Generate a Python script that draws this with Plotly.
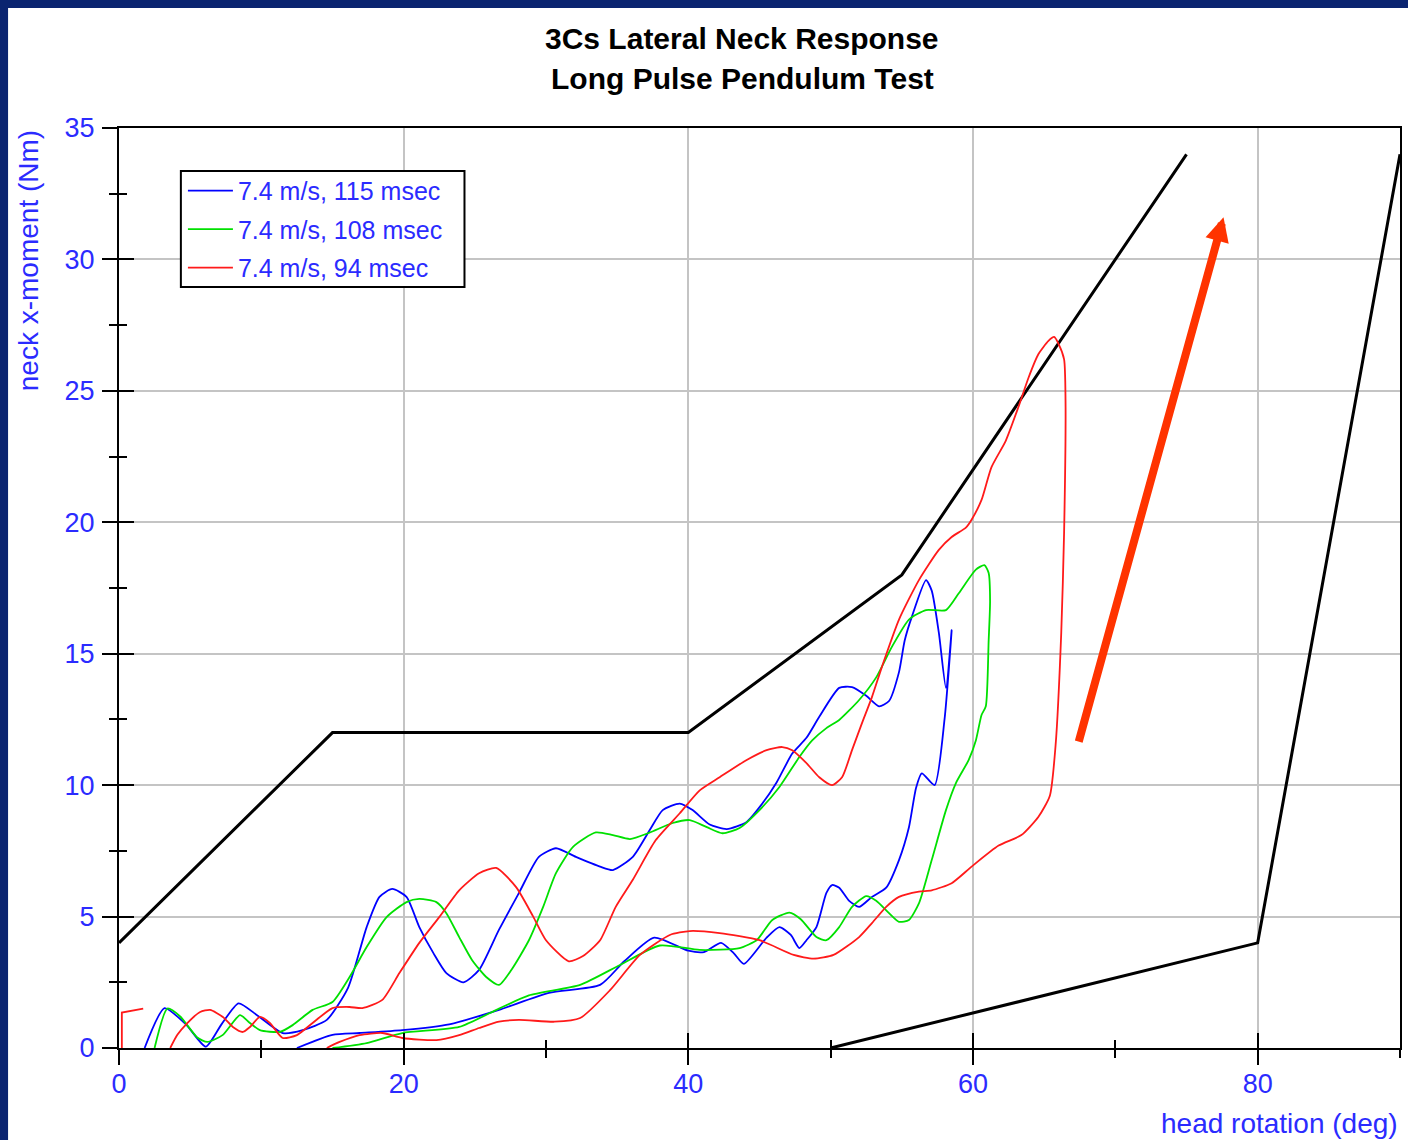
import plotly.graph_objects as go

# ---------------- data ----------------
blue_x = [1.8, 3.2, 4.7, 6.1, 7.2, 8.4, 9.7, 11.5, 12.9, 14.6, 16.1, 17.4, 18.3, 19.2, 20.2, 21.1, 22.1, 23.0, 24.2,
          25.3, 26.7, 28.1, 29.5, 30.7, 32.1, 33.8, 34.7, 36.1, 37.3, 38.2, 39.4, 40.3, 41.5, 42.7, 44.1, 45.2,
          46.2, 47.3, 48.3, 49.2, 50.6, 51.5, 52.5, 53.4, 54.1, 54.8, 55.2, 55.7, 56.7, 57.1, 57.6, 58.1, 58.5,
          58.0, 57.3, 56.4, 56.0, 55.5, 54.8, 53.9, 52.9, 52.0, 51.3, 50.6, 50.1, 49.7, 49.0, 48.3, 47.8, 47.2,
          46.4, 45.5, 43.9, 43.2, 42.3, 41.1, 40.0, 37.6, 35.5, 33.8, 30.2, 26.7, 23.2, 19.9, 16.9, 15.0, 12.5]
blue_y = [0.0, 1.52, 0.9, 0.05, 0.9, 1.7, 1.25, 0.57, 0.68, 1.07, 2.3, 4.6, 5.75, 6.05, 5.75, 4.6, 3.6, 2.85, 2.5,
          2.97, 4.5, 5.9, 7.27, 7.6, 7.27, 6.9, 6.77, 7.27, 8.3, 9.05, 9.3, 9.05, 8.5, 8.33, 8.6, 9.3,
          10.1, 11.2, 11.8, 12.6, 13.7, 13.73, 13.4, 13.0, 13.2, 14.3, 15.5, 16.4, 17.8, 17.4, 15.8, 13.7, 15.9,
          12.5, 10.0, 10.45, 9.9, 8.4, 7.15, 6.1, 5.75, 5.37, 5.6, 6.1, 6.2, 5.9, 4.6, 4.1, 3.8, 4.3,
          4.6, 4.2, 3.2, 3.6, 4.0, 3.65, 3.7, 4.2, 3.3, 2.4, 2.1, 1.45, 0.9, 0.68, 0.57, 0.5, 0.0]

green_x = [2.5, 3.4, 4.3, 5.5, 6.2, 7.3, 8.5, 9.2, 9.9, 11.3, 12.2, 13.6, 15.0, 16.2, 17.4, 18.8, 20.2, 21.1, 22.3,
           23.0, 23.9, 24.8, 25.8, 26.7, 27.6, 28.8, 29.8, 30.7, 31.9, 33.5, 34.7, 35.9, 37.3, 38.9, 40.1, 41.3,
           42.4, 43.6, 45.0, 46.4, 47.8, 48.7, 49.7, 50.6, 52.0, 53.2, 54.3, 55.5, 56.7, 58.1, 59.0, 60.2, 60.8,
           61.1, 61.2, 61.1, 60.9, 60.6, 60.2, 59.7, 58.8, 58.1, 57.1, 56.2, 55.5, 54.8, 54.1, 53.2, 52.5, 51.5,
           50.6, 49.7, 49.0, 47.9, 47.1, 45.9, 45.2, 44.8, 43.6, 40.8, 38.0, 35.2, 32.4, 28.8, 26.7, 23.9, 19.9,
           17.4, 15.0]
green_y = [0.0, 1.5, 1.2, 0.4, 0.23, 0.5, 1.25, 0.95, 0.68, 0.61, 0.87, 1.45, 1.75, 2.7, 3.84, 4.98, 5.55, 5.67, 5.55,
           5.13, 4.22, 3.35, 2.7, 2.4, 3.0, 4.1, 5.37, 6.65, 7.65, 8.2, 8.1, 7.95, 8.2, 8.56, 8.67, 8.4,
           8.17, 8.37, 9.05, 9.93, 11.07, 11.7, 12.17, 12.48, 13.24, 14.1, 15.26, 16.3, 16.66, 16.66, 17.3, 18.2, 18.37,
           18.07, 17.0, 15.5, 13.0, 12.67, 11.7, 10.96, 10.08, 9.05, 7.15, 5.5, 4.87, 4.8, 5.13, 5.6, 5.78, 5.37,
           4.6, 4.1, 4.22, 4.9, 5.15, 4.87, 4.37, 4.1, 3.8, 3.73, 3.9, 3.16, 2.4, 2.0, 1.5, 0.8, 0.57,
           0.19, 0.0]

red_x = [3.6, 4.1, 4.8, 5.7, 6.4, 7.3, 8.0, 8.7, 9.2, 9.9, 10.6, 11.5, 12.5, 13.6, 15.0, 16.2, 17.1, 18.5, 19.7,
         21.1, 22.5, 23.9, 25.3, 26.5, 27.9, 29.1, 30.0, 31.6, 32.6, 33.8, 34.9, 36.1, 37.7, 39.4, 40.8, 42.2,
         44.1, 45.5, 46.6, 47.3, 48.3, 49.2, 50.1, 50.8, 51.5, 52.2, 52.9, 53.6, 54.8, 56.2, 57.6, 58.5, 59.5,
         59.9, 60.6, 61.3, 62.3, 63.2, 63.9, 64.6, 65.3, 65.7, 66.0, 66.4, 66.5, 66.4, 66.2, 65.8, 65.4, 64.6,
         63.4, 61.8, 59.9, 58.5, 57.1, 56.2, 54.8, 53.9, 52.9, 52.0, 50.2, 48.8, 47.4, 45.0, 42.2, 40.1, 38.7,
         36.6, 34.5, 32.4, 30.6, 28.1, 26.7, 25.3, 23.9, 22.3, 19.9, 18.5, 16.9, 15.5, 14.6]
red_y = [0.0, 0.5, 0.95, 1.37, 1.45, 1.18, 0.8, 0.61, 0.8, 1.18, 0.95, 0.38, 0.49, 0.95, 1.52, 1.56, 1.52, 1.83, 2.85,
         4.0, 4.98, 6.0, 6.65, 6.85, 6.12, 5.0, 4.1, 3.3, 3.5, 4.1, 5.37, 6.4, 7.9, 8.93, 9.8, 10.3,
         10.96, 11.33, 11.45, 11.33, 10.84, 10.3, 10.0, 10.3, 11.33, 12.36, 13.35, 14.5, 16.3, 17.8, 18.95, 19.44, 19.8,
         20.1, 20.85, 22.1, 23.1, 24.4, 25.5, 26.4, 26.9, 27.05, 26.8, 26.2, 24.65, 19.6, 15.8, 11.5, 9.6, 8.8,
         8.1, 7.7, 6.9, 6.27, 6.0, 5.95, 5.75, 5.37, 4.75, 4.22, 3.54, 3.4, 3.54, 4.1, 4.37, 4.45, 4.3,
         3.54, 2.2, 1.14, 1.0, 1.07, 1.0, 0.76, 0.49, 0.3, 0.38, 0.57, 0.49, 0.23, 0.0]

red_start_x = [0.2, 0.2, 1.7]
red_start_y = [0.0, 1.35, 1.5]

upper_corr_x = [0, 15, 40, 55, 75]
upper_corr_y = [4, 12, 12, 18, 34]
lower_corr_x = [50, 80, 90]
lower_corr_y = [0, 4, 34]

series_names = ["7.4 m/s, 115 msec", "7.4 m/s, 108 msec", "7.4 m/s, 94 msec"]
x_ticks = [0, 20, 40, 60, 80]
y_ticks = [0, 5, 10, 15, 20, 25, 30, 35]

# arrow (tail -> head) in data units
arrow_tail = (67.4, 11.6)
arrow_head = (77.6, 31.6)

# ---------------- figure ----------------
BLUE = "#0000ff"
GREEN = "#00e000"
RED = "#ff1a1a"
TXT_BLUE = "#2b2bff"
NAVY = "#0a2470"
FONT = "Liberation Sans, Arial, sans-serif"

fig = go.Figure()

fig.add_trace(go.Scatter(x=upper_corr_x, y=upper_corr_y, mode="lines",
                         line=dict(color="black", width=3), showlegend=False, hoverinfo="skip"))
fig.add_trace(go.Scatter(x=lower_corr_x, y=lower_corr_y, mode="lines",
                         line=dict(color="black", width=3), showlegend=False, hoverinfo="skip"))

for name, xs, ys, col, grp in [(series_names[0], blue_x, blue_y, BLUE, "b"),
                                (series_names[1], green_x, green_y, GREEN, "g"),
                                (series_names[2], red_x, red_y, RED, "r")]:
    fig.add_trace(go.Scatter(x=xs, y=ys, mode="lines", name=name, legendgroup=grp,
                             line=dict(color=col, width=1.8, shape="spline", smoothing=0.6)))
fig.add_trace(go.Scatter(x=red_start_x, y=red_start_y, mode="lines", legendgroup="r", showlegend=False,
                         line=dict(color=RED, width=1.8)))

# dummy trace for the overlay (inside tick) axes
fig.add_trace(go.Scatter(x=[None], y=[None], xaxis="x2", yaxis="y2", showlegend=False, hoverinfo="skip"))

axis_common = dict(tickcolor="black", tickwidth=2)

fig.update_layout(
    width=1408, height=1140, autosize=False,
    margin=dict(l=119, r=6, t=128, b=92),
    paper_bgcolor=NAVY, plot_bgcolor="white",
    font=dict(family=FONT, color=TXT_BLUE, size=27),
    xaxis=dict(range=[0, 90], tickvals=x_ticks, ticks="outside", ticklen=15, showgrid=True,
               gridcolor="#c4c4c4", gridwidth=2, zeroline=False, showline=True, linecolor="black",
               linewidth=2, mirror=True, tickfont=dict(size=27, color=TXT_BLUE), ticklabelstandoff=-4,
               minor=dict(dtick=10, ticks="outside", ticklen=8, tickcolor="black", tickwidth=2, showgrid=False),
               **axis_common),
    yaxis=dict(range=[0, 35], tickvals=y_ticks, ticks="outside", ticklen=15, showgrid=True,
               gridcolor="#c4c4c4", gridwidth=2, zeroline=False, showline=True, linecolor="black",
               linewidth=2, mirror=True, tickfont=dict(size=27, color=TXT_BLUE), ticklabelstandoff=2,
               minor=dict(dtick=2.5, ticks="outside", ticklen=8, tickcolor="black", tickwidth=2, showgrid=False),
               **axis_common),
    xaxis2=dict(range=[0, 90], overlaying="x", anchor="y2", tickvals=x_ticks, ticks="inside", ticklen=15,
                showgrid=False, zeroline=False, showline=False, showticklabels=False,
                minor=dict(dtick=10, ticks="inside", ticklen=8, tickcolor="black", tickwidth=2),
                **axis_common),
    yaxis2=dict(range=[0, 35], overlaying="y", anchor="x2", tickvals=y_ticks, ticks="inside", ticklen=15,
                showgrid=False, zeroline=False, showline=False, showticklabels=False,
                minor=dict(dtick=2.5, ticks="inside", ticklen=8, tickcolor="black", tickwidth=2),
                **axis_common),
    legend=dict(x=0.0499, y=0.9566, xanchor="left", yanchor="top", bgcolor="rgba(0,0,0,0)",
                borderwidth=0, font=dict(size=25, color=TXT_BLUE, family=FONT),
                tracegroupgap=3, traceorder="grouped", itemwidth=45),
    showlegend=True,
)

# white "slide" area behind the chart
fig.add_shape(type="rect", xref="paper", yref="paper", x0=-0.0866, x1=1.01, y0=-0.11, y1=1.1304,
              fillcolor="white", line=dict(width=0), layer="below")
# legend frame
fig.add_shape(type="rect", xref="paper", yref="paper", x0=0.0483, x1=0.2697, y0=0.8272, y1=0.9533,
              fillcolor="white", line=dict(color="black", width=2), layer="above")

# titles
fig.add_annotation(text="<b>3Cs Lateral Neck Response</b>", xref="paper", yref="paper",
                   x=0.4864, y=1.0978, xanchor="center", yanchor="middle", showarrow=False,
                   font=dict(size=30, color="black", family=FONT))
fig.add_annotation(text="<b>Long Pulse Pendulum Test</b>", xref="paper", yref="paper",
                   x=0.4864, y=1.0533, xanchor="center", yanchor="middle", showarrow=False,
                   font=dict(size=30, color="black", family=FONT))
fig.add_annotation(text="neck x-moment (Nm)", xref="paper", yref="paper", x=-0.0709, y=0.8554,
                   xanchor="center", yanchor="middle", textangle=-90, showarrow=False,
                   font=dict(size=28, color=TXT_BLUE, family=FONT))
fig.add_annotation(text="head rotation (deg)", xref="paper", yref="paper", x=1.0, y=-0.0826,
                   xanchor="right", yanchor="middle", showarrow=False,
                   font=dict(size=28, color=TXT_BLUE, family=FONT))

# red arrow
fig.add_annotation(x=arrow_head[0], y=arrow_head[1], ax=arrow_tail[0], ay=arrow_tail[1],
                   xref="x", yref="y", axref="x", ayref="y", text="", showarrow=True,
                   arrowhead=2, arrowsize=0.6, arrowwidth=8, arrowcolor="#ff3300", standoff=0)

fig.write_html("out.html", config={"displayModeBar": False},
               post_script="document.body.style.margin='0';document.body.style.overflow='hidden';"
                           "document.body.style.background='" + NAVY + "';")
